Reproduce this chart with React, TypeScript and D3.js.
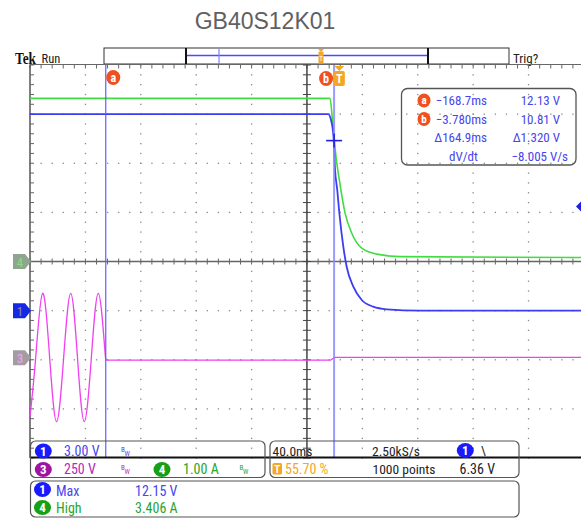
import React from 'react';
import * as d3 from 'd3';

const TITLE = 'GB40S12K01';

// time in ms relative to trigger
const ch1Time = [-223.4, -8.0, -6.0, -4.2, -3.1, -1.5, 0.0, 2.9, 5.3, 10.1, 16.2, 24.5, 34.2, 58.3, 176.7];
const ch1Volts = [12.0, 12.0, 11.64, 10.62, 8.6, 7.37, 5.96, 3.9, 2.68, 1.46, 0.65, 0.24, 0.08, 0.0, 0.0];

const ch4Time = [-223.4, -6.7, -4.8, -2.4, 0.0, 4.1, 8.9, 16.2, 27.0, 43.8, 176.7];
const ch4Amps = [3.32, 3.32, 2.82, 2.13, 1.66, 0.99, 0.58, 0.27, 0.15, 0.1, 0.08];

// mains sine part of channel 3, then the flat part after the switch-off
const ch3SineTime = [-223.4, -219.3, -214.3, -209.2, -204.2, -199.1, -194.0, -189.1, -184.2, -179.1, -174.1, -168.9];
const ch3SineVolts = [-300, 0, 328, 0, -325, 0, 328, 0, -325, 0, 328, 0];
const ch3FlatTime = [-168.9, -168.2, -6.7, -3.1, 176.7];
const ch3FlatVolts = [0, -12, -12, 2, 2];

const cursorTimes = [-168.7, -3.78];
const cursorNames = ['a', 'b'];
const cursorCrossVolts = 10.81;

const timeDomain = [-223.4, 176.7];
const divDomain = [-4, 4];
const ch1VoltsPerDiv = 3.0;
const ch1OffsetDiv = -1;
const ch3VoltsPerDiv = 250;
const ch3OffsetDiv = -1.96;
const ch4AmpsPerDiv = 1.0;
const ch4OffsetDiv = 0;
const trigLevelVolts = 6.36;

const readoutTimes = ['\u2212168.7ms', '\u22123.780ms', '\u0394164.9ms', 'dV/dt'];
const readoutValues = ['12.13 V', '10.81 V', '\u03941.320 V', '\u22128.005 V/s'];

const NARROW = "'Liberation Sans Narrow', 'Arial Narrow', 'Roboto Condensed', sans-serif";

const BLUE = '#3c3cf5';
const GREEN = '#3fdd3f';
const MAGENTA = '#f040f0';
const ORANGE = '#f5a623';
const CURSOR = '#f0501e';
const TXT_BLUE = '#4646ee';
const TXT_GREEN = '#2aa52a';
const TXT_MAG = '#b52ab5';

export default function App() {
  const left = 30, right = 584, top = 65, bottom = 458;
  const x = d3.scaleLinear().domain(timeDomain).range([left, right]);
  const yDiv = d3.scaleLinear().domain(divDomain).range([bottom, top]);
  const y1 = (v: number) => yDiv(ch1OffsetDiv + v / ch1VoltsPerDiv);
  const y3 = (v: number) => yDiv(ch3OffsetDiv + v / ch3VoltsPerDiv);
  const y4 = (v: number) => yDiv(ch4OffsetDiv + v / ch4AmpsPerDiv);

  const line = (ts: number[], vs: number[], yf: (v: number) => number, curve: d3.CurveFactory = d3.curveMonotoneX) =>
    d3.line<number>().x((_, i) => x(ts[i])).y((_, i) => yf(vs[i])).curve(curve)(ts) || '';

  const divW = (right - left) / 10;
  const minorX: number[] = d3.range(0, 51).map((m) => left + (m * divW) / 5);
  const minorY: number[] = d3.range(0, 41).map((k) => yDiv(-4 + k / 5));
  const majorX: number[] = d3.range(0, 11).map((i) => x(timeDomain[0] + i * 40));
  const majorY: number[] = d3.range(-4, 5).map((j) => yDiv(j));
  const cx = majorX[5];
  const cy = yDiv(0);

  const dots: JSX.Element[] = [];
  majorX.forEach((gx, i) => {
    if (i === 0 || i === 5) return;
    minorY.forEach((gy, k) => dots.push(<rect key={`v${i}-${k}`} x={gx - 0.6} y={gy - 0.6} width={1.3} height={1.3} fill="#8a8a8a" />));
  });
  majorY.forEach((gy, j) => {
    if (j === 0 || j === 4 || j === 8) return;
    minorX.forEach((gx, m) => dots.push(<rect key={`h${j}-${m}`} x={gx - 0.6} y={gy - 0.6} width={1.3} height={1.3} fill="#8a8a8a" />));
  });

  const badge = (key: string, bx: number, by: number, fill: string, label: string, rx = 8, ry = 7.5, fs = 12) => (
    <g key={key}>
      <ellipse cx={bx} cy={by} rx={rx} ry={ry} fill={fill} />
      <text x={bx} y={by + fs * 0.36} textAnchor="middle" fontFamily={NARROW} fontSize={fs} fill="#fff" fontWeight="bold">{label}</text>
    </g>
  );

  const bw = (bx: number, by: number, color: string) => (
    <g>
      <text x={bx} y={by - 3} fontFamily={NARROW} fontSize={7} fill={color}>B</text>
      <text x={bx + 3.5} y={by + 1} fontFamily={NARROW} fontSize={7} fill={color}>W</text>
    </g>
  );

  const chMarker = (my: number, fill: string, tcol: string, label: string) => (
    <g>
      <path d={`M13,${my - 7.5} H25 L31,${my} L25,${my + 7.5} H13 Z`} fill={fill} />
      <text x={20} y={my + 5} textAnchor="middle" fontFamily={NARROW} fontSize={13} fill={tcol}>{label}</text>
    </g>
  );

  const xa = x(cursorTimes[0]);
  const xb = x(cursorTimes[1]);
  const xt = x(0);
  const crossY = y1(cursorCrossVolts) + 7;

  return (
    <svg width={581} height={518} style={{ position: 'absolute', left: 0, top: 0, background: '#fff' }}>
      <rect x={0} y={0} width={581} height={518} fill="#fff" />
      {/* title */}
      <text x={265} y={29} textAnchor="middle" fontFamily="'Liberation Sans', Arial, sans-serif" fontSize={23} fill="#606060">{TITLE}</text>

      {/* header */}
      <text x={15} y={63.5} fontFamily="'Liberation Serif', 'Times New Roman', serif" fontWeight="bold" fontSize={17} textLength={21} lengthAdjust="spacingAndGlyphs" fill="#111">Tek</text>
      <text x={41.5} y={62.5} fontFamily={NARROW} fontSize={12.5} fill="#222">Run</text>
      <rect x={104} y={48} width={405} height={16} fill="#fff" stroke="#333" strokeWidth={1} />
      <line x1={186} x2={186} y1={48} y2={64} stroke="#111" strokeWidth={2} />
      <line x1={428} x2={428} y1={48} y2={64} stroke="#111" strokeWidth={2} />
      <line x1={187} x2={427} y1={55.5} y2={55.5} stroke="#4a4aff" strokeWidth={1.5} />
      <line x1={219} x2={219} y1={49} y2={64} stroke="#8080ff" strokeWidth={1.2} />
      <g>
        <path d="M318,49 L324,49 L321,52 Z" fill={ORANGE} />
        <rect x={318.5} y={51.5} width={5} height={12} rx={1} fill={ORANGE} />
        <text x={321} y={61} textAnchor="middle" fontFamily={NARROW} fontSize={7} fill="#fff">T</text>
      </g>
      <text x={513} y={62.5} fontFamily={NARROW} fontSize={13} fill="#222">Trig?</text>

      {/* graticule */}
      {dots}
      <line x1={left} x2={581} y1={64.5} y2={64.5} stroke="#666" strokeWidth={1.2} />
      {minorX.map((gx, i) => (
        <line key={`tt${i}`} x1={gx} x2={gx} y1={64.5} y2={68.5} stroke="#666" strokeWidth={1} />
      ))}
      <line x1={left} x2={left} y1={64.5} y2={bottom} stroke="#555" strokeWidth={1.5} />
      {minorY.map((gy, i) => (
        <line key={`lt${i}`} x1={left} x2={left + 4} y1={gy} y2={gy} stroke="#666" strokeWidth={1} />
      ))}
      <line x1={left} x2={581} y1={cy} y2={cy} stroke="#666" strokeWidth={1.5} />
      {minorX.map((gx, i) => (
        <line key={`ct${i}`} x1={gx} x2={gx} y1={cy - 3} y2={cy + 3} stroke="#666" strokeWidth={1} />
      ))}
      <line x1={cx} x2={cx} y1={64.5} y2={bottom} stroke="#444" strokeWidth={1.5} />
      {minorY.map((gy, i) => (
        <line key={`vt${i}`} x1={cx - 4} x2={cx + 4} y1={gy} y2={gy} stroke="#444" strokeWidth={1} />
      ))}

      {/* traces */}
      <path d={line(ch3SineTime, ch3SineVolts, y3, d3.curveNatural)} fill="none" stroke={MAGENTA} strokeWidth={1.3} />
      <path d={line(ch3FlatTime, ch3FlatVolts, y3)} fill="none" stroke={MAGENTA} strokeWidth={1.3} />
      <path d={line(ch4Time, ch4Amps, y4)} fill="none" stroke={GREEN} strokeWidth={1.6} />
      <path d={line(ch1Time, ch1Volts, y1)} fill="none" stroke={BLUE} strokeWidth={1.8} />

      {/* cursors */}
      <line x1={xa} x2={xa} y1={65} y2={bottom} stroke="#5a5aff" strokeWidth={1.3} opacity={0.9} />
      <line x1={xb} x2={xb} y1={65} y2={bottom} stroke="#8a8aff" strokeWidth={2} opacity={0.85} />
      <line x1={xb - 8} x2={xb + 8} y1={crossY} y2={crossY} stroke="#2020e0" strokeWidth={1.6} />
      <line x1={xb} x2={xb} y1={crossY - 7} y2={crossY + 7} stroke="#2020e0" strokeWidth={1.6} />

      {/* bottom graticule border */}
      <line x1={left} x2={581} y1={bottom - 0.5} y2={bottom - 0.5} stroke="#111" strokeWidth={2} />

      {/* cursor badges */}
      {badge('ca', xa + 7.5, 77.5, CURSOR, cursorNames[0], 7, 7.5, 12)}
      {badge('cb', xb - 8, 78.5, CURSOR, cursorNames[1], 7, 7.5, 12)}
      <path d={`M${xt - 5},66 L${xt + 5},66 L${xt},71 Z`} fill={ORANGE} />
      <rect x={xt - 5.5} y={71} width={11} height={15} rx={2} fill={ORANGE} />
      <text x={xt} y={83} textAnchor="middle" fontFamily={NARROW} fontSize={12} fontWeight="bold" fill="#fff">T</text>

      {/* trigger level marker */}
      <path d={`M576,${y1(trigLevelVolts)} L581,${y1(trigLevelVolts) - 5} L581,${y1(trigLevelVolts) + 5} Z`} fill="#2020e0" />

      {/* channel markers */}
      {chMarker(y4(0), '#8fa58f', '#7ee07e', '4')}
      {chMarker(y1(0), '#1428e6', '#8a8aa8', '1')}
      {chMarker(y3(0), '#a39ca3', '#f2a6f2', '3')}

      {/* cursor readout */}
      <rect x={401.5} y={88.5} width={174.5} height={76.5} rx={6} fill="none" stroke="#555" strokeWidth={1.3} />
      {badge('ra', 424, 100.5, CURSOR, 'a', 6.5, 7, 11)}
      {badge('rb', 424, 119, CURSOR, 'b', 6.5, 7, 11)}
      {readoutTimes.map((s, i) => (
        <text key={`rt${i}`} x={i === 3 ? 463.5 : 487} y={105 + i * 18.5} textAnchor={i === 3 ? 'middle' : 'end'} fontFamily={NARROW} fontSize={13} fill={TXT_BLUE}>{s}</text>
      ))}
      {readoutValues.map((s, i) => (
        <text key={`rv${i}`} x={i === 3 ? 568 : 560} y={105 + i * 18.5} textAnchor="end" fontFamily={NARROW} fontSize={13} fill={TXT_BLUE}>{s}</text>
      ))}

      {/* bottom readouts */}
      <rect x={30.5} y={441} width={234.5} height={36.5} rx={5} fill="none" stroke="#555" strokeWidth={1.2} />
      <rect x={270} y={441} width={249} height={36.5} rx={5} fill="none" stroke="#555" strokeWidth={1.2} />
      <rect x={30.5} y={481} width={488.5} height={36} rx={5} fill="none" stroke="#555" strokeWidth={1.2} />

      {badge('b1', 43.3, 451, '#1a1aff', '1', 8.5, 7.5, 13)}
      <text x={64} y={455.5} fontFamily={NARROW} fontSize={14} fill={TXT_BLUE}>3.00 V</text>
      {bw(121, 455, TXT_BLUE)}
      {badge('b3', 43.3, 469.5, '#a013a0', '3', 8.5, 7.5, 13)}
      <text x={64} y={474} fontFamily={NARROW} fontSize={14} fill={TXT_MAG}>250 V</text>
      {bw(121, 473, TXT_MAG)}
      {badge('b4', 162, 469.5, '#16a016', '4', 8.5, 7.5, 13)}
      <text x={183} y={474} fontFamily={NARROW} fontSize={14} fill={TXT_GREEN}>1.00 A</text>
      {bw(239.5, 473, TXT_GREEN)}

      <text x={272.5} y={455.5} fontFamily={NARROW} fontSize={13.5} fill="#222">40.0ms</text>
      <text x={372} y={455.5} fontFamily={NARROW} fontSize={13.5} fill="#222">2.50kS/s</text>
      {badge('bt1', 465.3, 450.5, '#1a1aff', '1', 8.5, 7.5, 13)}
      <text x={481} y={455} fontFamily={NARROW} fontSize={13} fill="#222">\</text>
      <rect x={272.5} y={463} width={9.5} height={11.5} rx={1.5} fill={ORANGE} />
      <text x={277.2} y={473} textAnchor="middle" fontFamily={NARROW} fontSize={11} fontWeight="bold" fill="#fff">T</text>
      <text x={285} y={474} fontFamily={NARROW} fontSize={14} fill={ORANGE}>55.70 %</text>
      <text x={372.5} y={474} fontFamily={NARROW} fontSize={13.5} fill="#222">1000 points</text>
      <text x={459.5} y={474} fontFamily={NARROW} fontSize={14} fill="#222">6.36 V</text>

      {badge('m1', 42.5, 489.5, '#1a1aff', '1', 8.5, 7.5, 13)}
      <text x={56} y={495.5} fontFamily={NARROW} fontSize={14} fill={TXT_BLUE}>Max</text>
      <text x={135} y={495.5} fontFamily={NARROW} fontSize={14} fill={TXT_BLUE}>12.15 V</text>
      {badge('m4', 42.5, 507.5, '#16a016', '4', 8.5, 7.5, 13)}
      <text x={56} y={512.5} fontFamily={NARROW} fontSize={14} fill={TXT_GREEN}>High</text>
      <text x={135} y={512.5} fontFamily={NARROW} fontSize={14} fill={TXT_GREEN}>3.406 A</text>
    </svg>
  );
}
